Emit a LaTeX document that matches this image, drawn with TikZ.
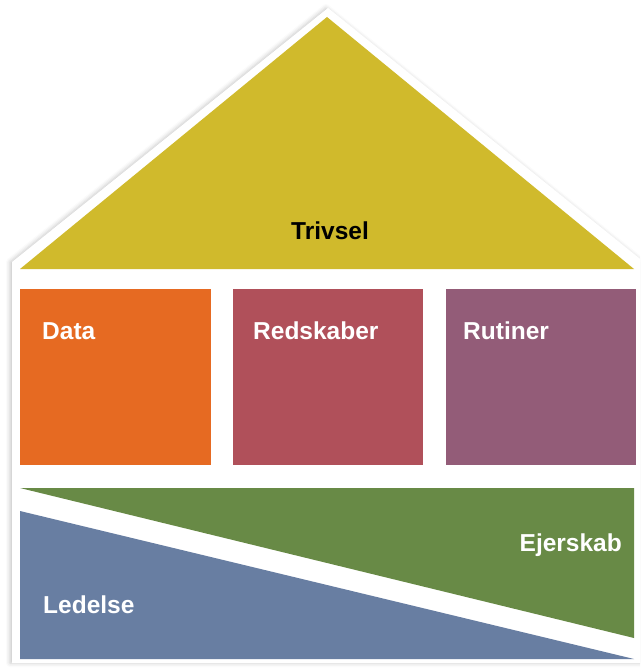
\documentclass[tikz,border=0pt]{standalone}
\usepackage{fontspec}
\setmainfont{Liberation Sans}
\usetikzlibrary{positioning,shadows.blur}

\definecolor{roofyellow}{HTML}{D0BA2C}
\definecolor{dataorange}{HTML}{E66A22}
\definecolor{toolred}{HTML}{B0505A}
\definecolor{routinepurple}{HTML}{935C78}
\definecolor{ownergreen}{HTML}{688A46}
\definecolor{leadblue}{HTML}{687EA2}

\begin{document}
\begin{tikzpicture}[x=1pt,y=-1pt,
  pillar/.style={minimum width=190pt,minimum height=176pt,inner sep=0pt,outer sep=0pt},
  tag/.style={font=\bfseries\fontsize{24.5}{28}\selectfont,text=white,inner sep=0pt}]
  \useasboundingbox (0,0) rectangle (640,668);
  \clip (0,0) rectangle (640,668);

  % white house with a soft shadow
  \fill[white,blur shadow={shadow xshift=-2pt,shadow yshift=0pt,
      shadow blur radius=4pt,shadow opacity=22}]
    (328,8) -- (644,262) -- (644,663) -- (12,663) -- (12,262) -- cycle;

  % roof
  \coordinate (apex) at (327,17);
  \fill[roofyellow] (apex) -- (634,269) -- (20,269) -- cycle;
  \node[font=\bfseries\fontsize{24.5}{28}\selectfont,inner sep=0pt,anchor=base]
    (trivsel) at (330,239) {Trivsel};

  % the three pillars
  \node[pillar,fill=dataorange,minimum width=191pt] (data) at (115.5,377) {};
  \node[pillar,fill=toolred,right=22pt of data] (tools) {};
  \node[pillar,fill=routinepurple,right=23pt of tools] (routines) {};
  \node[tag,anchor=base west] (datatext) at ([xshift=22pt,yshift=-50pt]data.north west) {Data};
  \node[tag,anchor=base west] (toolstext) at ([xshift=20pt,yshift=-50pt]tools.north west) {Redskaber};
  \node[tag,anchor=base west] (routinestext) at ([xshift=17pt,yshift=-50pt]routines.north west) {Rutiner};

  % foundation, split along the diagonal
  \fill[ownergreen] (20,488) -- (634,488) -- (634,638) -- cycle;
  \fill[leadblue] (20,511) -- (20,659) -- (634,659) -- cycle;
  \node[tag,anchor=base east] (owner) at (622,551) {Ejerskab};
  \node[tag,anchor=base west] (lead) at (43,613) {Ledelse};
\end{tikzpicture}
\end{document}
